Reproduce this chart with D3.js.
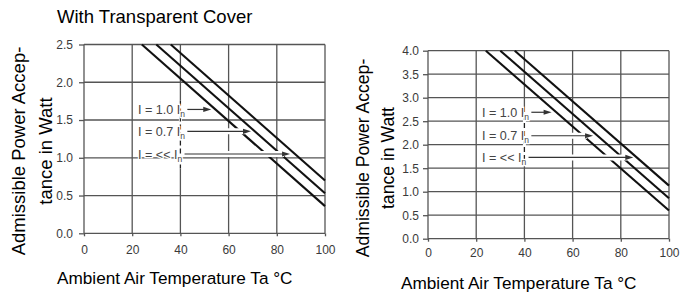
<!DOCTYPE html>
<meta charset="utf-8">
<style>
body{margin:0;background:#fff;}
svg{display:block;}
text{font-family:'Liberation Sans',Arial,sans-serif;}
</style>
<svg id="svg" width="680" height="302"></svg>
<script src="https://d3js.org/d3.v7.min.js"></script>
<script>
// values
var temps = [0, 20, 40, 60, 80, 100]
var leftWattTicks = [0, 0.5, 1.0, 1.5, 2.0, 2.5]
var rightWattTicks = [0, 0.5, 1.0, 1.5, 2.0, 2.5, 3.0, 3.5, 4.0]
var currents = ['1.0', '0.7', '<<']

// derating lines [temp, watt] for I = 1.0 In, 0.7 In, << In
var leftLines = [
  [[24, 2.5], [100, 0.36]],
  [[30, 2.5], [100, 0.53]],
  [[36, 2.5], [100, 0.70]]
]
var rightLines = [
  [[24, 4.0], [100, 0.60]],
  [[30, 4.0], [100, 0.86]],
  [[36, 4.0], [100, 1.13]]
]
// arrow level (watt) and tip (temp)
var leftArrows = [[1.64, 52.8], [1.35, 69.3], [1.05, 85.5]]
var rightArrows = [[2.69, 51.3], [2.19, 68.5], [1.73, 85.2]]
var labelTemp = 22.4
var leftDash = [1.76, 0.86]
var rightDash = [2.8, 1.61]

var svg = d3.select('svg')

svg.append('text')
  .attr('x', 57).attr('y', 23)
  .style('font-size', '18.5px').attr('fill', '#000')
  .text('With Transparent Cover')

function chart(o) {
  var x = d3.scaleLinear().domain([0, 100]).range([o.x0, o.x1])
  var y = d3.scaleLinear().domain([0, o.ymax]).range([o.y0, o.y1])
  var g = svg.append('g')
  var grid = '#555'

  // grid
  g.selectAll('.vg').data(temps).enter().append('line')
    .attr('x1', d => x(d)).attr('x2', d => x(d))
    .attr('y1', y(0)).attr('y2', y(o.ymax))
    .attr('stroke', grid).attr('stroke-width', 1.3)
  g.selectAll('.hg').data(o.ticks).enter().append('line')
    .attr('x1', x(0)).attr('x2', x(100))
    .attr('y1', d => y(d)).attr('y2', d => y(d))
    .attr('stroke', grid).attr('stroke-width', 1.3)

  // dashed part of the 40 line
  g.append('line')
    .attr('x1', x(40)).attr('x2', x(40))
    .attr('y1', y(o.dash[0])).attr('y2', y(o.dash[1]))
    .attr('stroke', '#fff').attr('stroke-width', 3)
  g.append('line')
    .attr('x1', x(40)).attr('x2', x(40))
    .attr('y1', y(o.dash[0])).attr('y2', y(o.dash[1]))
    .attr('stroke', '#222').attr('stroke-width', 1.3)
    .attr('stroke-dasharray', '5,3')

  // axes ticks + labels
  var ya = d3.axisLeft(y).tickValues(o.ticks).tickFormat(d3.format('.1f'))
    .tickSize(5).tickPadding(o.ypad)
  var yg = g.append('g').attr('transform', 'translate(' + x(0) + ',0)').call(ya)
  var xa = d3.axisBottom(x).tickValues(temps).tickSize(3).tickPadding(o.xpad)
  var xg = g.append('g').attr('transform', 'translate(0,' + y(0) + ')').call(xa)
  ;[yg, xg].forEach(a => {
    a.select('.domain').remove()
    a.selectAll('line').attr('stroke', grid).attr('stroke-width', 1.3)
    a.selectAll('text').attr('fill', '#3a3a3a').style('font-size', '12px')
      .style('font-family', "'Liberation Sans',Arial,sans-serif")
  })

  // derating lines
  var line = d3.line().x(d => x(d[0])).y(d => y(d[1]))
  g.selectAll('.curve').data(o.lines).enter().append('path')
    .attr('d', line).attr('fill', 'none')
    .attr('stroke', '#111').attr('stroke-width', 2.1)

  // labels + arrows
  o.arrows.forEach((a, i) => {
    var yy = y(a[0])
    var t = g.append('text')
      .attr('x', x(labelTemp)).attr('y', yy + 4.5)
      .attr('fill', '#444').style('font-size', '12.6px')
      .attr('stroke', '#fff').attr('stroke-width', 2.5)
      .attr('paint-order', 'stroke')
    t.append('tspan').text('I = ' + currents[i] + ' I')
    t.append('tspan').text('n').style('font-size', '8.5px').attr('dy', 3)
    var end = t.node().getBBox()
    var sx = end.x + end.width + 2
    var tx = x(a[1])
    g.append('line')
      .attr('x1', sx).attr('x2', tx - 6)
      .attr('y1', yy).attr('y2', yy)
      .attr('stroke', '#fff').attr('stroke-width', 6)
    g.append('line')
      .attr('x1', sx).attr('x2', tx - 5)
      .attr('y1', yy).attr('y2', yy)
      .attr('stroke', '#333').attr('stroke-width', 1.2)
    g.append('path')
      .attr('d', 'M' + tx + ',' + yy + 'L' + (tx - 8) + ',' + (yy - 2.6) + 'L' + (tx - 8) + ',' + (yy + 2.6) + 'Z')
      .attr('fill', '#333')
  })

  // axis titles
  var cy = o.ycenter
  g.append('text')
    .attr('transform', 'translate(' + o.yt1 + ',' + cy + ') rotate(-90)')
    .attr('text-anchor', 'middle').style('font-size', o.ytsize + 'px').attr('fill', '#000')
    .text('Admissible Power Accep-')
  g.append('text')
    .attr('transform', 'translate(' + o.yt2 + ',' + cy + ') rotate(-90)')
    .attr('text-anchor', 'middle').style('font-size', o.ytsize + 'px').attr('fill', '#000')
    .text('tance in Watt')
  g.append('text')
    .attr('x', o.xtx).attr('y', o.xty)
    .style('font-size', '17.2px').attr('fill', '#000')
    .text('Ambient Air Temperature Ta °C')
}

chart({
  x0: 84, x1: 325, y0: 233.3, y1: 44.5, ymax: 2.5,
  ticks: leftWattTicks, lines: leftLines, arrows: leftArrows, dash: leftDash,
  ypad: 6, xpad: 9, ycenter: 151, yt1: 25, yt2: 52, ytsize: 18.5,
  xtx: 57, xty: 284
})
chart({
  x0: 428, x1: 669, y0: 238.7, y1: 50.7, ymax: 4,
  ticks: rightWattTicks, lines: rightLines, arrows: rightArrows, dash: rightDash,
  ypad: 4, xpad: 7, ycenter: 158, yt1: 369, yt2: 394, ytsize: 17.6,
  xtx: 401, xty: 289
})
</script>
